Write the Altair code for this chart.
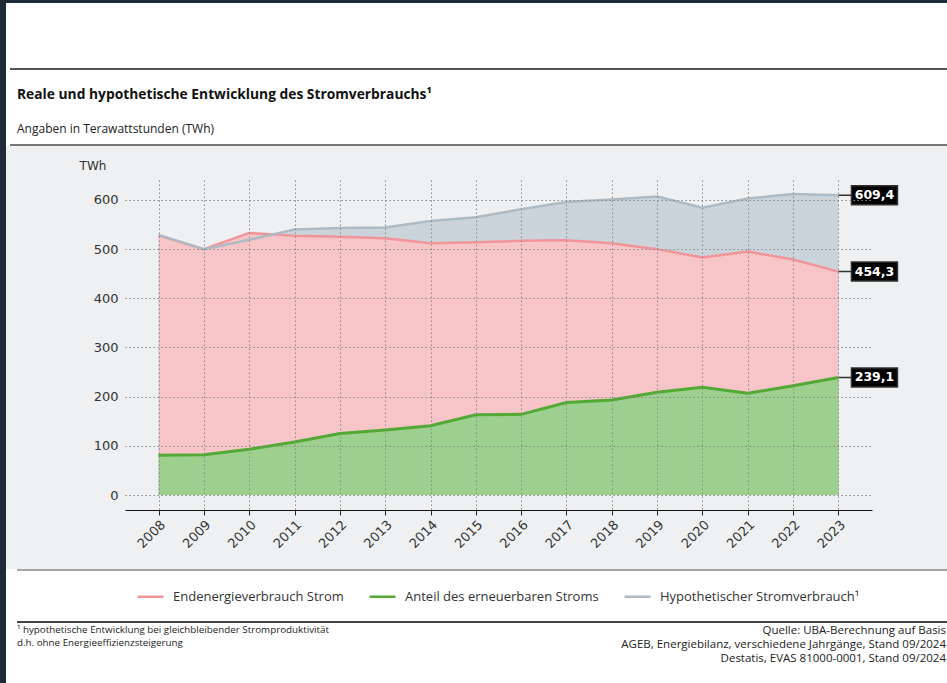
import altair as alt
import pandas as pd

# ---------------- data ----------------
years = list(range(2008, 2024))
endenergie = [528, 500, 533, 527, 525, 522, 512, 514, 517, 518, 512, 500, 483, 495, 479, 454.3]
erneuerbar = [81, 82, 93, 108, 125, 132, 141, 163, 164, 188, 193, 209, 219, 207, 222, 239.1]
hypothetisch = [529, 500, 519, 540, 543, 544, 557, 565, 581, 596, 601, 607, 584, 603, 612, 609.4]

series_names = [
    "Endenergieverbrauch Strom",
    "Anteil des erneuerbaren Stroms",
    "Hypothetischer Stromverbrauch\u00b9",
]
line_colors = ["#f2959b", "#52a935", "#aebbc4"]
fill_colors = ["#f7c4c7", "#9dd08e", "#cbd4da"]

y_ticks = [0, 100, 200, 300, 400, 500, 600]

title_text = "Reale und hypothetische Entwicklung des Stromverbrauchs\u00b9"
subtitle_text = "Angaben in Terawattstunden (TWh)"
unit_text = "TWh"
foot_left = [
    "\u00b9 hypothetische Entwicklung bei gleichbleibender Stromproduktivität",
    "d.h. ohne Energieeffizienzsteigerung",
]
foot_right = [
    "Quelle: UBA-Berechnung auf Basis",
    "AGEB, Energiebilanz, verschiedene Jahrgänge, Stand 09/2024",
    "Destatis, EVAS 81000-0001, Stand 09/2024",
]

# ---------------- tables ----------------
rows = []
for name, vals in zip(series_names, [endenergie, erneuerbar, hypothetisch]):
    for yr, v in zip(years, vals):
        rows.append({"Jahr": str(yr), "Serie": name, "Wert": v})
df = pd.DataFrame(rows)
last = df[df["Jahr"] == str(years[-1])].copy()
last["Label"] = last["Wert"].map(lambda v: f"{v:.1f}".replace(".", ","))

# ---------------- layout ----------------
W, H = 947, 683
L, T = 125, 180
PW, PH = 747, 330

xscale = alt.Scale(type="point", padding=0.74)
yscale = alt.Scale(domain=[-30.5, 640.6], nice=False, zero=False)

x_enc = alt.X(
    "Jahr:O",
    scale=xscale,
    axis=alt.Axis(
        title=None, labelAngle=-45, labelFont="DejaVu Sans", labelFontSize=13,
        labelColor="#333", domainColor="#111", domainWidth=1.2, tickColor="#222",
        tickSize=5, grid=True, gridColor="#8a8a8a", gridDash=[1.5, 2.5], gridWidth=1,
        labelPadding=3, zindex=1,
    ),
)
y_enc = alt.Y(
    "Wert:Q",
    scale=yscale,
    axis=alt.Axis(
        title=None, values=y_ticks, domain=False, ticks=False, labelFont="DejaVu Sans",
        labelFontSize=13, labelColor="#333", labelPadding=7, grid=True,
        gridColor="#8a8a8a", gridDash=[1.5, 2.5], gridWidth=1, zindex=1,
    ),
)

dummy = pd.DataFrame({"a": [0]})


def prule(x1, x2, y, color, width):
    return alt.Chart(dummy).mark_rule(color=color, strokeWidth=width).encode(
        x=alt.value(x1 - L), x2=alt.value(x2 - L), y=alt.value(y - T)
    )


def prect(x1, x2, y1, y2, color):
    return alt.Chart(dummy).mark_rect(color=color).encode(
        x=alt.value(x1 - L), x2=alt.value(x2 - L), y=alt.value(y1 - T), y2=alt.value(y2 - T)
    )


def ptext(x, y, s, size, align="left", weight="normal", font="Open Sans", color="#222"):
    return alt.Chart(dummy).mark_text(
        align=align, baseline="middle", fontSize=size, fontWeight=weight, font=font, color=color
    ).encode(x=alt.value(x - L), y=alt.value(y - T), text=alt.value(s))


layers = []
# page frame + panels
layers.append(prect(0, 6, 0, H, "#1e2a37"))
layers.append(prect(0, W, 0, 3, "#1e2a37"))
layers.append(prect(6, W, 146, 569, "#eef0f2"))
layers.append(prule(10, W, 69, "#555555", 2))
layers.append(prule(10, W, 145, "#777777", 2))
layers.append(prule(17, W, 570, "#888888", 1.5))
layers.append(prule(17, W, 622, "#444444", 2))
layers.append(ptext(17, 95, title_text, 13.8, weight="bold", color="#111"))
layers.append(ptext(17, 129, subtitle_text, 12, color="#222"))
layers.append(ptext(93, 166, unit_text, 12, align="center", font="DejaVu Sans", color="#333"))
layers.append(ptext(17, 630, foot_left[0], 9.8))
layers.append(ptext(17, 643, foot_left[1], 9.8))
for i, s in enumerate(foot_right):
    layers.append(ptext(946, 631 + 14 * i, s, 11.5, align="right"))

base = alt.Chart(df)
# areas: hypothetical behind, then final energy, then renewable
for idx in [2, 0, 1]:
    layers.append(
        base.transform_filter(alt.datum.Serie == series_names[idx])
        .mark_area(color=fill_colors[idx], opacity=1)
        .encode(x=x_enc, y=y_enc, y2=alt.Y2(datum=0))
    )

# lines with legend
color_enc = alt.Color(
    "Serie:N",
    scale=alt.Scale(domain=series_names, range=line_colors),
    sort=series_names,
    legend=alt.Legend(
        orient="none", legendX=11, legendY=402, direction="horizontal", title=None,
        symbolType="stroke", symbolSize=676, symbolStrokeWidth=2.5, labelFont="Open Sans",
        labelFontSize=13, labelColor="#333", columnPadding=20, labelOffset=8,
        labelLimit=400,
    ),
)
for idx, w in [(0, 2.5), (2, 2.5), (1, 3)]:
    layers.append(
        base.transform_filter(alt.datum.Serie == series_names[idx])
        .mark_line(strokeWidth=w)
        .encode(x=x_enc, y=y_enc, color=color_enc)
    )

box_path = "M-1.565,0H-1M-1,-0.413H1V0.413H-1Z"
lab = alt.Chart(last)
layers.append(
    lab.mark_point(shape=box_path, size=2116, filled=True, fill="#000000", stroke="#333333",
                   strokeWidth=1.5, opacity=1, xOffset=36)
    .encode(x=x_enc, y=y_enc)
)
layers.append(
    lab.mark_text(font="DejaVu Sans", fontWeight="bold", fontSize=12.5, color="white",
                  align="center", baseline="middle", xOffset=36)
    .encode(x=x_enc, y=y_enc, text="Label:N")
)

chart = (
    alt.layer(*layers)
    .properties(
        width=PW, height=PH,
        autosize=alt.AutoSizeParams(type="none"),
        padding={"left": L, "top": T, "right": W - L - PW, "bottom": H - T - PH},
        background="white",
    )
    .configure_view(stroke=None)
)

chart.save("out.html", embed_options={"renderer": "svg", "actions": False})
